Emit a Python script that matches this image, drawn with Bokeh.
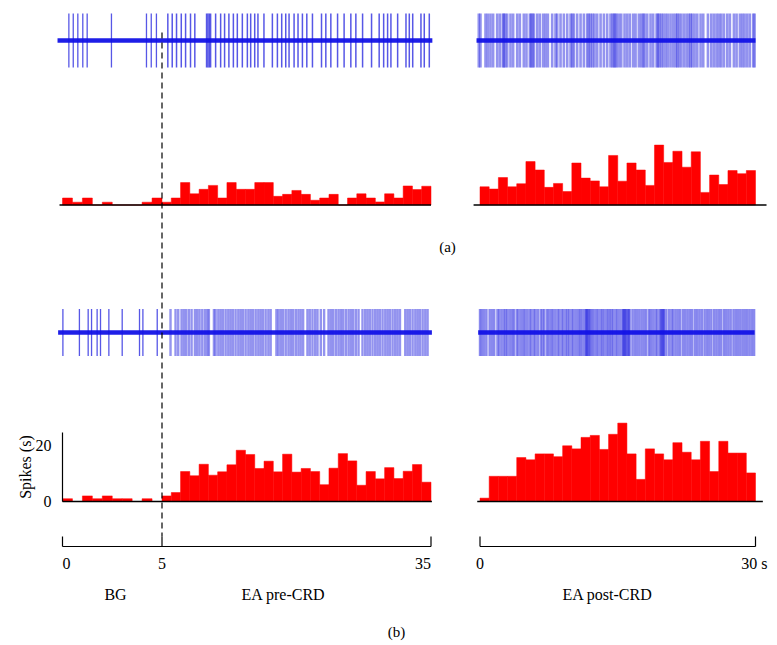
import numpy as np
from bokeh.plotting import figure
from bokeh.models import Range1d
from bokeh.core.properties import value
from bokeh.embed import file_html
from bokeh.resources import INLINE

# ---------------- data ----------------
# firing-rate histograms (spikes/s); BG: 0-5 s, EA pre-CRD: 5-35 s, EA post-CRD: 0-30 s
a_bg_rate = [2.5, 1.0, 2.5, 0, 1.0, 0, 0, 0, 1.0, 2.5]
a_pre_rate = [1, 2.5, 8, 4, 5.6, 7, 2.5, 8, 5.6, 5.6, 8, 8, 3.1, 3.8, 5.2, 3.8, 1.7, 2.5,
              3.8, 0, 2.5, 4, 2.5, 1.1, 4, 2.5, 6.8, 5.5, 6.7]
a_post_rate = [6.5, 5.7, 9.8, 6.5, 7.6, 15.5, 12.5, 6.3, 7.7, 4.8, 15, 9.6, 8.6, 6.5, 17.7,
               8.5, 15, 12.5, 7, 21.4, 15.2, 19.2, 13.5, 19, 4.5, 10.7, 7.3, 12.3, 11.2, 12.3]
b_bg_rate = [1, 0, 2, 1, 2, 1, 1, 0, 1, 0]
b_pre_rate = [2, 3.2, 10.7, 9.2, 13.3, 9.4, 10.6, 13.1, 18.3, 16.8, 11.8, 14.4, 10.6, 16.9,
              10.5, 11.8, 10.7, 6, 11.9, 17.1, 14.5, 5.8, 10.7, 8.1, 12.1, 8.2, 10.8, 13.2, 6.9]
b_post_rate = [1.2, 9, 9, 9, 15.7, 14.9, 17, 17, 16, 19.9, 18.8, 22.9, 23.6, 18.6, 24, 28,
               17, 7.9, 18.8, 17, 14.9, 21, 17.6, 14.9, 21.5, 10.7, 21.5, 17.3, 17.3, 10.2]

# spike times (s) of the raw traces
a_bg_spikes = [0.32, 0.54, 0.77, 1.02, 1.24, 2.46, 4.22, 4.46, 4.72]
a_pre_spikes = [5.65, 6.14, 6.62, 7.15, 7.63, 8.18, 8.66, 9.97, 10.12, 10.27, 10.42, 10.98,
                11.54, 11.98, 12.46, 12.96, 13.4, 13.96, 14.52, 14.89, 15.34, 15.7, 16.37,
                17.31, 17.87, 18.35, 18.8, 19.17, 19.73, 20.17, 20.66, 21.15, 21.78, 22.79,
                23.27, 23.83, 24.58, 25.31, 26.06, 26.62, 27.37, 28.37, 29.22, 29.72, 30.16,
                30.53, 31.28, 32.21, 32.58, 32.96, 33.88, 34.25, 34.81]
a_post_spikes = [-0.13, 0.05, 0.6, 0.85, 1.14, 1.43, 1.87, 2.16, 2.49, 2.6, 2.74, 2.96, 3.32,
                 3.61, 4.05, 4.34, 4.77, 5.06, 5.43, 5.57, 5.72, 5.87, 6.23, 6.52, 6.88, 7.13,
                 7.39, 7.86, 8.22, 8.41, 8.77, 9.13, 9.5, 9.86, 10.04, 10.22, 10.58, 10.95,
                 11.31, 11.67, 11.85, 12.04, 12.25, 12.47, 12.76, 13.13, 13.49, 13.85, 14.21,
                 14.43, 14.58, 14.72, 14.87, 15.12, 15.38, 15.74, 16.03, 16.32, 16.68, 16.94,
                 17.3, 17.56, 17.77, 17.92, 18.21, 18.57, 18.86, 19.23, 19.37, 19.52, 19.73,
                 19.95, 20.21, 20.46, 20.75, 21.04, 21.3, 21.48, 21.66, 21.91, 22.2, 22.49,
                 22.75, 22.93, 23.11, 23.37, 23.66, 24.02, 24.31, 24.82, 25.18, 25.47, 25.76,
                 26.02, 26.27, 26.56, 26.92, 27.21, 27.65, 27.94, 28.3, 28.56, 28.81, 29.1,
                 29.39, 29.76, 29.9]
b_bg_spikes = [0.02, 0.85, 1.29, 1.46, 1.74, 1.91, 2.33, 3.0, 3.87, 4.04, 4.76]
b_pre_spikes = [5.95, 6.51, 6.81, 7.18, 7.44, 7.7, 8.0, 8.3, 8.67, 8.93, 9.19, 9.49, 9.79,
                10.05, 10.23, 10.79, 10.98, 11.28, 11.54, 11.8, 12.1, 12.39, 12.65, 12.91,
                13.21, 13.51, 13.77, 14.03, 14.33, 14.63, 14.89, 15.15, 15.45, 15.74, 16.0,
                16.26, 16.56, 16.86, 17.12, 17.76, 17.98, 18.24, 18.5, 18.8, 19.1, 19.36,
                19.62, 19.92, 20.21, 20.47, 20.74, 21.22, 21.48, 21.78, 22.08, 22.34, 22.71,
                23.08, 23.57, 23.83, 24.09, 24.39, 24.68, 24.94, 25.2, 25.5, 25.8, 26.06,
                26.32, 26.62, 26.92, 27.36, 27.66, 27.92, 28.18, 28.48, 28.78, 29.04, 29.3,
                29.6, 29.9, 30.16, 30.42, 30.72, 31.01, 31.27, 31.54, 32.13, 32.39, 32.65,
                32.95, 33.25, 33.51, 33.77, 34.07, 34.36, 34.62]
b_post_spikes = [0.0, 0.2, 0.45, 0.7, 1.05, 1.3, 1.55, 1.9, 2.1, 2.35, 2.6, 2.8, 3.0, 3.25,
                 3.5, 3.7, 4.0, 4.2, 4.45, 4.7, 4.9, 5.15, 5.4, 5.6, 5.85, 6.05, 6.3, 6.6,
                 6.8, 7.0, 7.3, 7.5, 7.75, 7.95, 8.2, 8.45, 8.65, 8.9, 9.1, 9.35, 9.55, 9.75,
                 10.0, 10.2, 10.45, 10.7, 10.9, 11.1, 11.35, 11.55, 11.6, 11.65, 11.75, 11.9,
                 12.0, 12.2, 12.4, 12.65, 12.85, 13.1, 13.3, 13.5, 13.75, 13.95, 14.15, 14.35,
                 14.55, 14.8, 15.0, 15.25, 15.5, 15.6, 15.7, 15.75, 15.85, 15.95, 16.1, 16.2,
                 16.3, 16.6, 16.85, 17.1, 17.35, 17.6, 17.85, 18.1, 18.4, 18.6, 18.85, 19.1,
                 19.3, 19.55, 19.7, 19.8, 19.9, 20.0, 20.05, 20.3, 20.6, 20.85, 21.05, 21.3,
                 21.55, 21.8, 22.1, 22.35, 22.6, 22.85, 23.1, 23.4, 23.65, 23.9, 24.15, 24.45,
                 24.7, 24.95, 25.2, 25.5, 25.75, 26.0, 26.25, 26.55, 26.8, 27.05, 27.3, 27.6,
                 27.85, 28.1, 28.35, 28.6, 28.85, 29.1, 29.35, 29.6, 29.85]

# time scale bars / tick labels
pre_ticks = [0, 5, 35]
post_ticks = [0, 30]
y_ticks = [0, 20]
y_axis_top = 24.6
y_label = "Spikes (s)"

# ---------------- layout helpers ----------------
W, H = 776, 644
FX0, FX1 = 0, W          # frame left/right in page px
FY_BOT, FY_TOP = H, 0    # frame bottom/top in page px
FONT = value("Liberation Serif")


def xr(v0, p0, v1, p1):
    k = (v1 - v0) / (p1 - p0)
    return Range1d(start=v0 + (FX0 - p0) * k, end=v0 + (FX1 - p0) * k)


def yr(v0, p0, v1, p1):
    k = (v1 - v0) / (p1 - p0)
    return Range1d(start=v0 + (FY_BOT - p0) * k, end=v0 + (FY_TOP - p0) * k)


p = figure(width=W, height=H, output_backend="svg", toolbar_location=None,
           x_range=Range1d(FX0, FX1), y_range=Range1d(FY_BOT, FY_TOP),
           x_axis_location=None, y_axis_location=None,
           min_border=0, outline_line_color=None,
           background_fill_color="white", border_fill_color="white")
p.xgrid.visible = False
p.ygrid.visible = False

p.extra_x_ranges = {
    "bg": xr(0, 62, 5, 161.5),
    "pre": xr(5, 161.5, 35, 430.5),
    "post": xr(0, 479.5, 30, 755),
}
p.extra_y_ranges = {
    "ha": yr(0, 204.5, 20, 148.5),
    "hb": yr(0, 501, 20, 445),
    "ta": yr(0, 40, 1, 13),
    "tb": yr(0, 332, 1, 308.5),
}

RED = "#ff0000"
BLUE_SPIKE = "#3a3ae2"
BLUE_BASE = "#1212e6"


def hist(rates, t0, t1, xname, yname):
    edges = np.linspace(t0, t1, len(rates) + 1)
    p.quad(left=edges[:-1], right=edges[1:], bottom=0, top=rates,
           fill_color=RED, line_color=RED, line_width=0.5,
           x_range_name=xname, y_range_name=yname)


hist(a_bg_rate, 0, 5, "bg", "ha")
hist(a_pre_rate, 5, 35, "pre", "ha")
hist(a_post_rate, 0, 30, "post", "ha")
hist(b_bg_rate, 0, 5, "bg", "hb")
hist(b_pre_rate, 5, 35, "pre", "hb")
hist(b_post_rate, 0, 30, "post", "hb")

# histogram baselines
for (t0, t1, xn, yn) in [(-0.15, 5, "bg", "ha"), (5, 35.0, "pre", "ha"),
                         (-0.7, 31.2, "post", "ha"),
                         (0, 5, "bg", "hb"), (5, 35.1, "pre", "hb"),
                         (-0.3, 30.8, "post", "hb")]:
    p.segment(x0=[t0], y0=[0], x1=[t1], y1=[0], line_color="black", line_width=1.3,
              x_range_name=xn, y_range_name=yn)


def trace(spikes, t0, t1, xname, yname, width=1.3, alpha=0.85):
    p.segment(x0=spikes, y0=-1, x1=spikes, y1=1, line_color=BLUE_SPIKE,
              line_width=width, line_alpha=alpha,
              x_range_name=xname, y_range_name=yname)
    p.segment(x0=[t0], y0=[0], x1=[t1], y1=[0], line_color=BLUE_BASE, line_width=4.5,
              line_alpha=0.95, x_range_name=xname, y_range_name=yname)


trace(a_bg_spikes, -0.25, 5, "bg", "ta")
trace(a_pre_spikes, 5, 35.15, "pre", "ta", width=1.5)
trace(a_post_spikes, -0.38, 30.0, "post", "ta", width=2.6, alpha=0.55)
trace(b_bg_spikes, -0.22, 5, "bg", "tb")
trace(b_pre_spikes, 5, 35.1, "pre", "tb", width=2.4, alpha=0.55)
trace(b_post_spikes, -0.2, 29.9, "post", "tb", width=2.4, alpha=0.6)

# dashed marker at the end of BG (5 s)
p.segment(x0=[5], y0=[32], x1=[5], y1=[536], line_color="black", line_width=1.2,
          line_dash="6 4", x_range_name="bg")

# time scale bars at the bottom
AX_Y, TICK_Y = 546, 536
p.segment(x0=[0], y0=[AX_Y], x1=[5], y1=[AX_Y], line_color="black", line_width=1.2,
          x_range_name="bg")
p.segment(x0=[5], y0=[AX_Y], x1=[35], y1=[AX_Y], line_color="black", line_width=1.2,
          x_range_name="pre")
p.segment(x0=[0, 5], y0=[AX_Y] * 2, x1=[0, 5], y1=[TICK_Y] * 2, line_color="black",
          line_width=1.2, x_range_name="bg")
p.segment(x0=[35], y0=[AX_Y], x1=[35], y1=[TICK_Y], line_color="black",
          line_width=1.2, x_range_name="pre")
p.segment(x0=[post_ticks[0]], y0=[AX_Y], x1=[post_ticks[-1]], y1=[AX_Y],
          line_color="black", line_width=1.2, x_range_name="post")
p.segment(x0=post_ticks, y0=[AX_Y] * 2, x1=post_ticks, y1=[TICK_Y] * 2,
          line_color="black", line_width=1.2, x_range_name="post")

LBL_Y = 563
TXT = dict(text_font=FONT, text_font_size="16px", text_color="black",
           text_baseline="middle")
p.text(x=[pre_ticks[0]], y=[LBL_Y], text=[str(pre_ticks[0])], text_align="left",
       x_offset=0, x_range_name="bg", **TXT)
p.text(x=[pre_ticks[1]], y=[LBL_Y], text=[str(pre_ticks[1])], text_align="center",
       x_range_name="bg", **TXT)
p.text(x=[pre_ticks[2]], y=[LBL_Y], text=[str(pre_ticks[2])], text_align="right",
       x_range_name="pre", **TXT)
p.text(x=[post_ticks[0]], y=[LBL_Y], text=[str(post_ticks[0])], text_align="center",
       x_range_name="post", **TXT)
p.text(x=[post_ticks[1]], y=[LBL_Y], text=[f"{post_ticks[1]} s"], text_align="right",
       x_offset=12, x_range_name="post", **TXT)

# section labels and panel letters (page-pixel positions)
p.text(x=[115, 283, 607], y=[594, 594, 594], text=["BG", "EA pre-CRD", "EA post-CRD"],
       text_align="center", **TXT)
p.text(x=[447, 396], y=[246, 631], text=["(a)", "(b)"], text_align="center",
       text_font=FONT, text_font_size="15px", text_color="black", text_baseline="middle")

# y axis of panel (b): line, tick labels and title
p.segment(x0=[0], y0=[0], x1=[0], y1=[y_axis_top], line_color="black", line_width=1.2,
          x_range_name="bg", y_range_name="hb")
p.text(x=[0] * len(y_ticks), y=y_ticks, text=[str(t) for t in y_ticks], text_align="right",
       x_offset=-11, x_range_name="bg", y_range_name="hb", **TXT)
p.text(x=[25], y=[y_axis_top / 2], text=[y_label], text_align="center", angle=np.pi / 2,
       y_range_name="hb", **TXT)

open("out.html", "w").write(file_html(p, INLINE))
